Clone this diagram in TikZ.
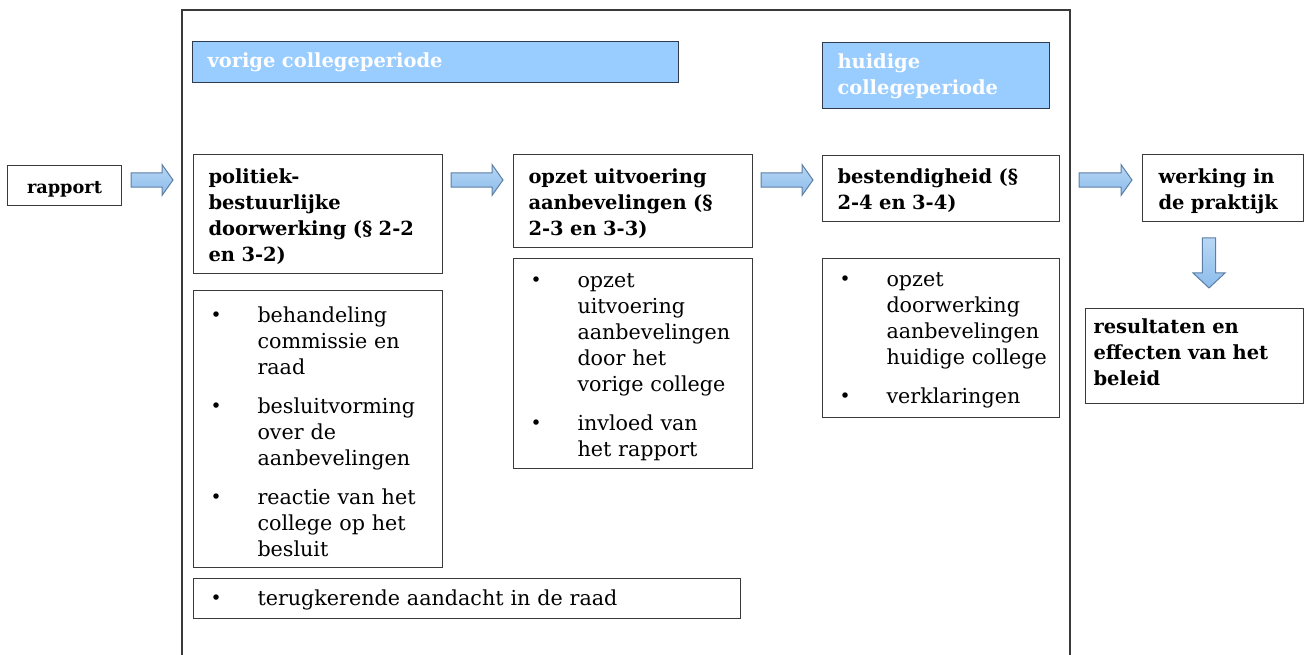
\documentclass[tikz,border=0pt]{standalone}
\usepackage{fontspec}
\setmainfont{DejaVu Serif}
\usetikzlibrary{calc}

\newlength{\pxu}
\setlength{\pxu}{0.75pt}

\definecolor{boxline}{HTML}{3A3A3A}
\definecolor{periodblue}{HTML}{99CCFF}
\definecolor{periodline}{HTML}{2F3A4F}
\definecolor{arrline}{HTML}{5C7FA3}
\definecolor{arrtop}{HTML}{B8D7F5}
\definecolor{arrbot}{HTML}{8CBCEC}

\newcommand{\headfont}{\fontsize{14.6}{19.5}\selectfont\bfseries}
\newcommand{\bodyfont}{\fontsize{15.5}{19.5}\selectfont}
\newcommand{\dotmark}{\raisebox{0.05ex}{\fontsize{14}{14}\selectfont •}}

\begin{document}
\begin{tikzpicture}[x=0.75pt, y=-0.75pt]

	\tikzset{
		box/.style={draw=boxline, line width=0.75pt, anchor=north west, inner ysep=0pt, align=left},
		stage/.style={box, inner xsep=15\pxu, font=\headfont},
		items/.style={box, inner xsep=17\pxu, font=\bodyfont},
		period/.style={stage, fill=periodblue, draw=periodline, text=white},
		flowarr/.style={draw=arrline, line width=0.75pt, top color=arrtop, bottom color=arrbot},
		frame/.style={draw=boxline, line width=1pt}
	}

	% ---------------------------
	% Helper macro: block arrow between two boxes
	% (#1 from node, #2 to node, #3 gap at start, #4 gap at end, in px)
	% ---------------------------
	\newcommand{\flowarrow}[4]{%
		\draw[flowarr] let \p1=(#1.east), \p2=(#2.west), \p3=(arrowrow) in
			(\x1+#3*0.75pt,\y3+5.4pt) -- (\x2-#4*0.75pt-8.25pt,\y3+5.4pt)
			-- (\x2-#4*0.75pt-8.25pt,\y3+11.6pt) -- (\x2-#4*0.75pt,\y3)
			-- (\x2-#4*0.75pt-8.25pt,\y3-11.6pt) -- (\x2-#4*0.75pt-8.25pt,\y3-5.4pt)
			-- (\x1+#3*0.75pt,\y3-5.4pt) -- cycle;
	}

	\useasboundingbox (0,0) rectangle (1306,655);
	\coordinate (arrowrow) at (0,180);
	\coordinate (downcol) at (1209,0);

	% frame round the two college periods (open at the bottom)
	\draw[frame] (182,655) -- (182,10) -- (1070,10) -- (1070,655);

	% ---------------------------
	% Period headers
	% ---------------------------
	\node[period, text width=456\pxu, text height=26\pxu, text depth=15\pxu] (vorige) at (192,41) {vorige collegeperiode};
	\node[period, text width=197\pxu, text height=26\pxu, text depth=40\pxu] (huidige) at (822,42) {huidige\\collegeperiode};

	% ---------------------------
	% Stages
	% ---------------------------
	\node[stage, font=\fontsize{13.3}{19.5}\selectfont\bfseries, align=center, inner xsep=0pt, text width=114\pxu, text height=28\pxu, text depth=12\pxu] (rapport) at (7,165) {rapport};
	\node[stage, text width=219\pxu, text height=29\pxu, text depth=90\pxu] (politiek) at (193,154) {politiek-\\bestuurlijke\\doorwerking (§ 2-2\\en 3-2)};
	\node[stage, text width=209\pxu, text height=29\pxu, text depth=64\pxu] (opzet) at (513,154) {opzet uitvoering\\aanbevelingen (§\\2-3 en 3-3)};
	\node[stage, text width=207\pxu, text height=28\pxu, text depth=38\pxu] (bestendig) at (822,155) {bestendigheid (§\\2-4 en 3-4)};
	\node[stage, inner xsep=16\pxu, text width=129\pxu, text height=29\pxu, text depth=38\pxu] (werking) at (1142,154) {werking in\\de praktijk};
	\node[stage, inner xsep=8\pxu, text width=202\pxu, text height=25\pxu, text depth=70\pxu] (effecten) at (1085,308) {resultaten en\\effecten van het\\beleid};

	% ---------------------------
	% Bullet lists under the stages
	% ---------------------------
	\node[items, text width=215\pxu, text height=32\pxu, text depth=245\pxu] (politieklist) at (193,290) {\noindent
		\begin{tabular}[t]{@{}p{47\pxu}@{}l@{}}
			\dotmark & behandeling\\
			& commissie en\\
			& raad\\[13\pxu]
			\dotmark & besluitvorming\\
			& over de\\
			& aanbevelingen\\[13\pxu]
			\dotmark & reactie van het\\
			& college op het\\
			& besluit
		\end{tabular}};
	\node[items, text width=205\pxu, text height=29\pxu, text depth=181\pxu] (opzetlist) at (513,258) {\noindent
		\begin{tabular}[t]{@{}p{47\pxu}@{}l@{}}
			\dotmark & opzet\\
			& uitvoering\\
			& aanbevelingen\\
			& door het\\
			& vorige college\\[13\pxu]
			\dotmark & invloed van\\
			& het rapport
		\end{tabular}};
	\node[items, text width=203\pxu, text height=28\pxu, text depth=131\pxu] (bestendiglist) at (822,258) {\noindent
		\begin{tabular}[t]{@{}p{47\pxu}@{}l@{}}
			\dotmark & opzet\\
			& doorwerking\\
			& aanbevelingen\\
			& huidige college\\[13\pxu]
			\dotmark & verklaringen
		\end{tabular}};
	\node[items, text width=513\pxu, text height=27\pxu, text depth=13\pxu] (raadlist) at (193,578) {\noindent
		\begin{tabular}[t]{@{}p{47\pxu}@{}l@{}}
			\dotmark & terugkerende aandacht in de raad
		\end{tabular}};

	% ---------------------------
	% Block arrows
	% ---------------------------
	\flowarrow{rapport}{politiek}{9}{20}
	\flowarrow{politiek}{opzet}{8}{10}
	\flowarrow{opzet}{bestendig}{8}{9}
	\flowarrow{bestendig}{werking}{19}{10}
	\draw[flowarr] let \p1=(werking.south), \p2=(effecten.north), \p3=(downcol) in
		(\x3-4.9pt,\y1-12pt) -- (\x3-4.9pt,\y2+26.25pt) -- (\x3-12pt,\y2+26.25pt)
		-- (\x3,\y2+15pt) -- (\x3+12pt,\y2+26.25pt) -- (\x3+4.9pt,\y2+26.25pt)
		-- (\x3+4.9pt,\y1-12pt) -- cycle;

\end{tikzpicture}
\end{document}
